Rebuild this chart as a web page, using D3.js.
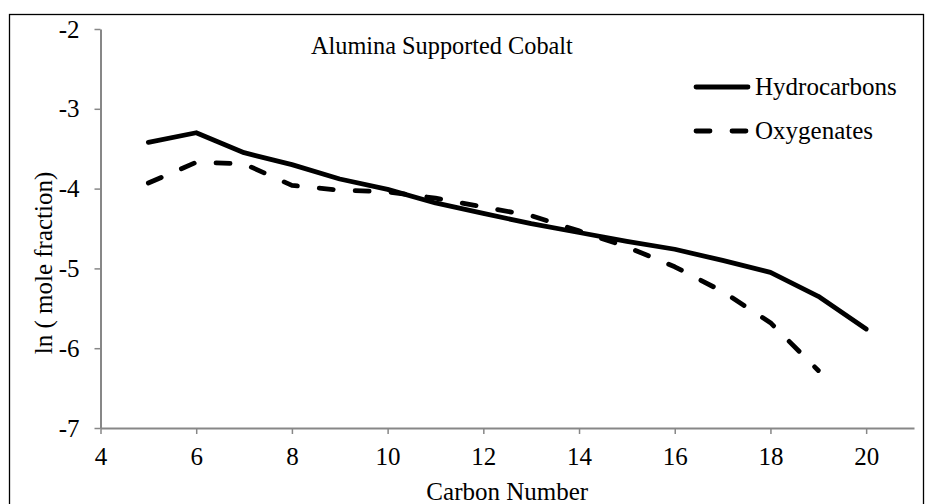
<!DOCTYPE html>
<html>
<head>
<meta charset="utf-8">
<script src="https://cdn.jsdelivr.net/npm/d3@7"></script>
<style>
  body { margin: 0; background: #fff; }
  svg { font-family: "Liberation Serif", "Times New Roman", serif; }
</style>
</head>
<body>
<svg width="926" height="504"></svg>
<script>
// data
const carbonNumbers = [5, 6, 7, 8, 9, 10, 11, 12, 13, 14, 15, 16, 17, 18, 19, 20];
const hydrocarbons = [-3.42, -3.30, -3.55, -3.70, -3.88, -4.01, -4.18, -4.31, -4.44, -4.55, -4.66, -4.76, -4.90, -5.05, -5.35, -5.76];
const oxyCarbons = [5, 6, 7, 8, 9, 10, 11, 12, 13, 14, 15, 16, 17, 18, 19];
const oxygenates = [-3.93, -3.67, -3.69, -3.96, -4.02, -4.04, -4.12, -4.23, -4.34, -4.53, -4.73, -4.98, -5.29, -5.68, -6.28];
const xTicks = [4, 6, 8, 10, 12, 14, 16, 18, 20];
const yTicks = [-2, -3, -4, -5, -6, -7];

const FONT = '"Liberation Serif", "Times New Roman", serif';
const svg = d3.select('svg');

// outer frame
svg.append('rect')
    .attr('x', 9.5).attr('y', 14.5)
    .attr('width', 914).attr('height', 500)
    .attr('fill', 'none').attr('stroke', '#000').attr('stroke-width', 1.3);

const x = d3.scaleLinear().domain([4, 21]).range([100.5, 914]);
const y = d3.scaleLinear().domain([-7, -2]).range([428, 29]);

const axisColor = '#878787';

// x axis
const gx = svg.append('g')
    .attr('transform', `translate(0,${y(-7)})`)
    .call(d3.axisBottom(x).tickValues(xTicks).tickSize(6).tickSizeOuter(0).tickFormat(d => String(d)));
gx.select('.domain').attr('stroke', axisColor).attr('stroke-width', 2);
gx.selectAll('.tick line').attr('stroke', axisColor).attr('stroke-width', 1.5);
gx.selectAll('.tick text')
    .attr('fill', '#000').attr('font-size', 25).attr('font-family', FONT)
    .attr('dy', null).attr('y', 37);

// y axis
const gy = svg.append('g')
    .attr('transform', `translate(${x(4)},0)`)
    .call(d3.axisLeft(y).tickValues(yTicks).tickSize(6).tickSizeOuter(0).tickFormat(d => String(d)));
gy.select('.domain').attr('stroke', axisColor).attr('stroke-width', 2);
gy.selectAll('.tick line').attr('stroke', axisColor).attr('stroke-width', 1.5);
gy.selectAll('.tick text')
    .attr('fill', '#000').attr('font-size', 25).attr('font-family', FONT)
    .attr('dy', null).attr('y', 8).attr('x', -21);

// axis titles
svg.append('text')
    .attr('x', (x(4) + x(21)) / 2).attr('y', 500)
    .attr('text-anchor', 'middle').attr('font-size', 25)
    .text('Carbon Number');

svg.append('text')
    .attr('transform', 'translate(52,263) rotate(-90)')
    .attr('text-anchor', 'middle').attr('font-size', 25)
    .text('ln ( mole fraction)');

// chart title
svg.append('text')
    .attr('x', 311).attr('y', 54)
    .attr('font-size', 24.3)
    .text('Alumina Supported Cobalt');

// lines
const line = d3.line()
    .x(d => x(d[0]))
    .y(d => y(d[1]));

svg.append('path')
    .datum(carbonNumbers.map((c, i) => [c, hydrocarbons[i]]))
    .attr('d', line)
    .attr('fill', 'none').attr('stroke', '#000')
    .attr('stroke-width', 4.8).attr('stroke-linecap', 'round').attr('stroke-linejoin', 'round');

svg.append('path')
    .datum(oxyCarbons.map((c, i) => [c, oxygenates[i]]))
    .attr('d', line)
    .attr('fill', 'none').attr('stroke', '#000')
    .attr('stroke-width', 4.8).attr('stroke-linecap', 'round').attr('stroke-linejoin', 'round')
    .attr('stroke-dasharray', '14,22');

// legend
const legend = [
    {name: 'Hydrocarbons', dash: null, y: 87},
    {name: 'Oxygenates', dash: '14,22', y: 131}
];
const lg = svg.selectAll('.legend')
    .data(legend)
    .enter()
    .append('g')
    .classed('legend', true);
lg.append('line')
    .attr('x1', 696).attr('x2', 748)
    .attr('y1', d => d.y).attr('y2', d => d.y)
    .attr('stroke', '#000').attr('stroke-width', 4.8).attr('stroke-linecap', 'round')
    .attr('stroke-dasharray', d => d.dash);
lg.append('text')
    .attr('x', 755).attr('y', d => d.y + 8)
    .attr('font-size', 25)
    .text(d => d.name);
</script>
</body>
</html>
